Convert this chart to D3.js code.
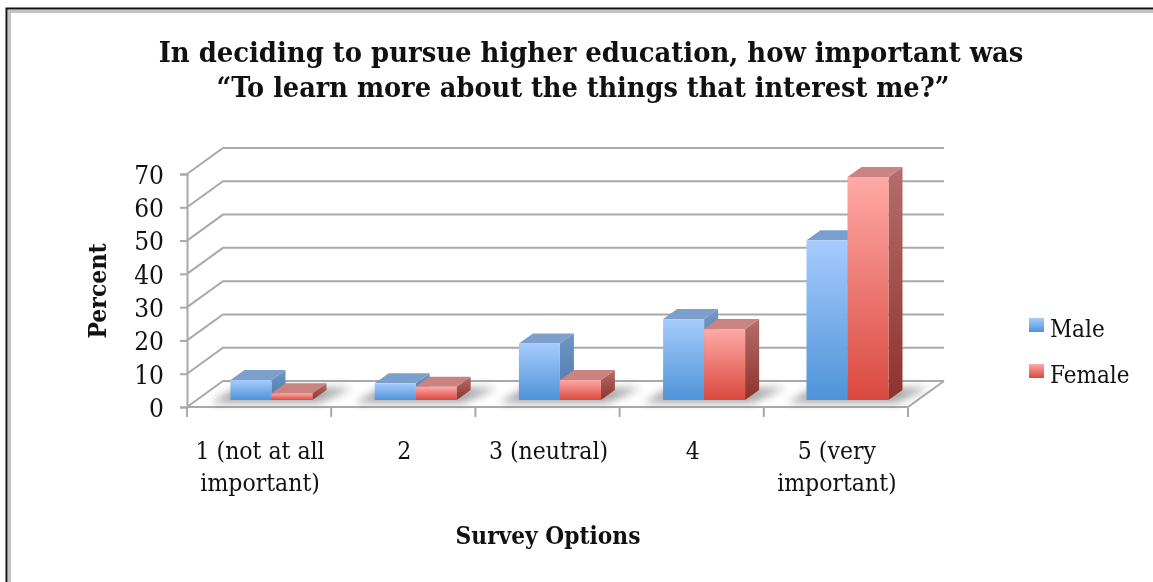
<!DOCTYPE html>
<html><head><meta charset="utf-8">
<script src="https://cdnjs.cloudflare.com/ajax/libs/d3/7.8.5/d3.min.js"></script>
<style>
html,body{margin:0;padding:0;background:#fff;overflow:hidden}
svg{display:block;filter:blur(0.35px)}
text{font-family:"DejaVu Serif Condensed","DejaVu Serif",serif;font-stretch:condensed;fill:#111}
</style></head><body>
<svg id="c" width="1153" height="582"></svg>
<script>
const categories=[["1 (not at all","important)"],["2"],["3 (neutral)"],["4"],["5 (very","important)"]];
const seriesNames=["Male","Female"];
const male=[6,5,17,24.3,48];
const female=[2,4,6,21.3,67];
const yTicks=[0,10,20,30,40,50,60,70];
const titleLines=["In deciding to pursue higher education, how important was","“To learn more about the things that interest me?”"];
const yTitle="Percent", xTitle="Survey Options";

const svg=d3.select("#c");
const defs=svg.append("defs");
function grad(id,stops){const g=defs.append("linearGradient").attr("id",id).attr("x1",0).attr("x2",0).attr("y1",0).attr("y2",1);
 stops.forEach((c,i)=>g.append("stop").attr("offset",i/(stops.length-1)).attr("stop-color",c));}
grad("gM",["#a6ccfd","#4f93d8"]);
grad("gF",["#ffa9a6","#d9493f"]);
grad("gMs",["#6f96c4","#4a79ad"]);
grad("gFs",["#b46e6b","#8f322b"]);
defs.append("filter").attr("id","blur").attr("x","-30%").attr("width","160%").attr("y","-80%").attr("height","260%").append("feGaussianBlur").attr("stdDeviation",4);

// frame
svg.append("path").attr("d","M9.5,582V11.5H1153").attr("fill","none").attr("stroke","#c4c4c4").attr("stroke-width",3);
svg.append("path").attr("d","M6.5,582V8.5H1153").attr("fill","none").attr("stroke","#111").attr("stroke-width",2);

const x=d3.scaleBand().domain(d3.range(categories.length)).range([187,908]).padding(0);
const y=d3.scaleLinear().domain([0,70]).range([407,174]);
const dx=36,dy=-26;      // wall depth
const bdx=14,bdy=-10;    // bar depth
const g=svg.append("g");
const axisCol="#a9a9a9";

yTicks.forEach(t=>{
  g.append("path").attr("d",`M${187},${y(t)}L${187+dx},${y(t)+dy}H${908+dx}`)
   .attr("fill","none").attr("stroke",axisCol).attr("stroke-width",2);
});
g.append("path").attr("d",`M187,407H908L${908+dx},${407+dy}`).attr("fill","none").attr("stroke",axisCol).attr("stroke-width",2);

// axes
const yAxis=d3.axisLeft(y).tickValues(yTicks).tickSize(7).tickPadding(16);
const ya=svg.append("g").attr("transform","translate(187,0)").call(yAxis);
ya.select(".domain").attr("stroke",axisCol).attr("stroke-width",2);
ya.selectAll(".tick line").attr("stroke",axisCol).attr("stroke-width",2);
ya.selectAll("text").attr("font-size",26).attr("dy","0.36em").style("fill","#111");

const xTicks=d3.range(categories.length+1).map(i=>187+i*x.bandwidth());
svg.append("g").selectAll("line").data(xTicks).join("line")
  .attr("x1",d=>d).attr("x2",d=>d).attr("y1",407).attr("y2",417)
  .attr("stroke",axisCol).attr("stroke-width",2);

// bars
const barW=41, inset=43.5, baseLift=7;
const px=v=>y(0)-y(v);
const series=[{n:"Male",v:male,o:0,f:"url(#gM)",top:"#7d9fcb",s:"url(#gMs)"},
              {n:"Female",v:female,o:1,f:"url(#gF)",top:"#c98381",s:"url(#gFs)"}];
categories.forEach((c,i)=>{
  const x0=x(i)+inset, base=y(0)-baseLift;
  g.append("path").attr("d",`M${x0-20},${base+3}H${x0+2*barW+6}L${x0+2*barW+bdx+26},${base-12}H${x0+6}Z`)
   .attr("fill","#777").attr("opacity",.65).attr("filter","url(#blur)");
});
series.forEach(s=>{
  const b=g.append("g").selectAll("g").data(s.v).join("g");
  const L=(d,i)=>x(i)+inset+s.o*barW-(i===4?0.8:0), T=d=>y(0)-baseLift-px(d), B=y(0)-baseLift;
  b.append("path").attr("fill",s.s).attr("d",(d,i)=>{const l=L(d,i)+barW,t=T(d);
     return `M${l},${t}L${l+bdx},${t+bdy}V${B+bdy}L${l},${B}Z`;});
  b.append("path").attr("fill",s.top).attr("d",(d,i)=>{const l=L(d,i),t=T(d);
     return `M${l},${t}L${l+bdx},${t+bdy}H${l+barW+bdx}L${l+barW},${t}Z`;});
  b.append("rect").attr("fill",s.f).attr("x",(d,i)=>L(d,i)).attr("y",T).attr("width",barW).attr("height",d=>B-T(d));
});

// category labels
categories.forEach((c,i)=>{
  c.forEach((line,j)=>{
    svg.append("text").attr("x",x(i)+x.bandwidth()/2+1).attr("y",459+j*32).attr("text-anchor","middle").attr("font-size",24.5).text(line);
  });
});

// titles
titleLines.forEach((t,i)=>svg.append("text").attr("x",591-(i?8:0)).attr("y",62+i*35).attr("text-anchor","middle")
  .attr("font-size",i?28.5:28.8).attr("font-weight","bold").text(t));
svg.append("text").attr("x",548).attr("y",544).attr("text-anchor","middle").attr("font-size",24.2).attr("font-weight","bold").text(xTitle);
svg.append("text").attr("transform","translate(106,291) rotate(-90)").attr("text-anchor","middle").attr("font-size",24.5).attr("font-weight","bold").text(yTitle);

// legend
seriesNames.forEach((n,i)=>{
  const ly=318+i*46;
  svg.append("rect").attr("x",1029).attr("y",ly).attr("width",15).attr("height",14).attr("fill",i?"url(#gF)":"url(#gM)");
  svg.append("text").attr("x",1050).attr("y",ly+19).attr("font-size",24).text(n);
});
</script>
</body></html>
